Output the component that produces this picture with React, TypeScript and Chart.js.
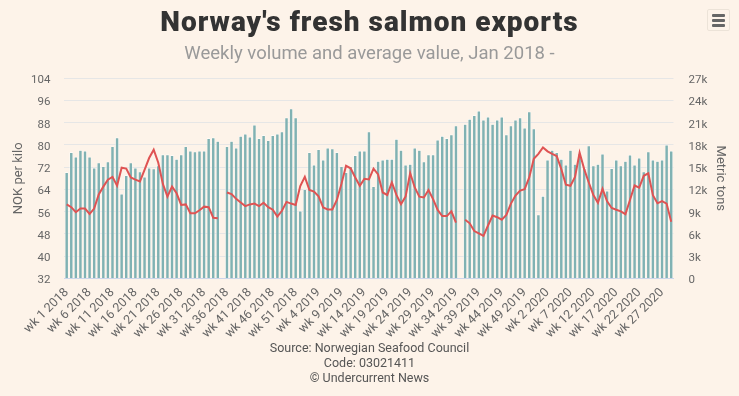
import React, { useEffect, useRef } from 'react';
import { Chart, registerables } from 'chart.js';

Chart.register(...registerables);

const categories: string[] = [
  'wk 1 2018', 'wk 2 2018', 'wk 3 2018', 'wk 4 2018', 'wk 5 2018', 'wk 6 2018', 'wk 7 2018', 'wk 8 2018', 'wk 9 2018', 'wk 10 2018',
  'wk 11 2018', 'wk 12 2018', 'wk 13 2018', 'wk 14 2018', 'wk 15 2018', 'wk 16 2018', 'wk 17 2018', 'wk 18 2018', 'wk 19 2018', 'wk 20 2018',
  'wk 21 2018', 'wk 22 2018', 'wk 23 2018', 'wk 24 2018', 'wk 25 2018', 'wk 26 2018', 'wk 27 2018', 'wk 28 2018', 'wk 29 2018', 'wk 30 2018',
  'wk 31 2018', 'wk 32 2018', 'wk 33 2018', 'wk 34 2018', 'wk 35 2018', 'wk 36 2018', 'wk 37 2018', 'wk 38 2018', 'wk 39 2018', 'wk 40 2018',
  'wk 41 2018', 'wk 42 2018', 'wk 43 2018', 'wk 44 2018', 'wk 45 2018', 'wk 46 2018', 'wk 47 2018', 'wk 48 2018', 'wk 49 2018', 'wk 50 2018',
  'wk 51 2018', 'wk 52 2018',
  'wk 1 2019', 'wk 2 2019', 'wk 3 2019', 'wk 4 2019', 'wk 5 2019', 'wk 6 2019', 'wk 7 2019', 'wk 8 2019', 'wk 9 2019', 'wk 10 2019',
  'wk 11 2019', 'wk 12 2019', 'wk 13 2019', 'wk 14 2019', 'wk 15 2019', 'wk 16 2019', 'wk 17 2019', 'wk 18 2019', 'wk 19 2019', 'wk 20 2019',
  'wk 21 2019', 'wk 22 2019', 'wk 23 2019', 'wk 24 2019', 'wk 25 2019', 'wk 26 2019', 'wk 27 2019', 'wk 28 2019', 'wk 29 2019', 'wk 30 2019',
  'wk 31 2019', 'wk 32 2019', 'wk 33 2019', 'wk 34 2019', 'wk 35 2019', 'wk 36 2019', 'wk 37 2019', 'wk 38 2019', 'wk 39 2019', 'wk 40 2019',
  'wk 41 2019', 'wk 42 2019', 'wk 43 2019', 'wk 44 2019', 'wk 45 2019', 'wk 46 2019', 'wk 47 2019', 'wk 48 2019', 'wk 49 2019', 'wk 50 2019',
  'wk 51 2019', 'wk 52 2019',
  'wk 1 2020', 'wk 2 2020', 'wk 3 2020', 'wk 4 2020', 'wk 5 2020', 'wk 6 2020', 'wk 7 2020', 'wk 8 2020', 'wk 9 2020', 'wk 10 2020',
  'wk 11 2020', 'wk 12 2020', 'wk 13 2020', 'wk 14 2020', 'wk 15 2020', 'wk 16 2020', 'wk 17 2020', 'wk 18 2020', 'wk 19 2020', 'wk 20 2020',
  'wk 21 2020', 'wk 22 2020', 'wk 23 2020', 'wk 24 2020', 'wk 25 2020', 'wk 26 2020', 'wk 27 2020', 'wk 28 2020', 'wk 29 2020',
];

// Metric tons per week
const volumeTons: (number | null)[] = [
  14300, 17000, 16400, 17300, 17200, 16400, 14900, 15600, 15100, 15750,
  17800, 19000, 11400, 13900, 15600, 14900, 14400, 13700, 14900, 14800,
  15200, 16700, 16700, 16600, 16100, 16700, 17800, 17200, 17100, 17200,
  17200, 18900, 19000, 18500, null, 17800, 18500, 17600, 19200, 19500,
  19100, 20700, 18900, 19300, 18600, 19300, 19500, 19800, 21700, 22900,
  21700, 9100, 12000, 17000, 15300, 17400, 16000, 17600, 17500, 17000,
  15100, 14300, 15100, 16600, 17200, 17200, 19800, 12400, 15800, 16000,
  16100, 16100, 18800, 17300, 15300, 15400, 17600, 17300, 15750, 16700,
  16700, 18700, 19200, 18900, 19400, 20600, null, 20800, 21500, 22000,
  22600, 21400, 21800, 20800, 21400, 21800, 19400, 20600, 21400, 21700,
  20300, 22500, 20200, 8600, 11100, 16000, 17300, 17000, 16100, 15300,
  17300, 15400, 16900, 14850, 17900, 15200, 15400, 16800, 11800, 14850,
  16000, 15200, 15800, 16650, 15300, 16250, 14400, 17100, 16000, 15800,
  16000, 18000, 17200,
];

// NOK per kilo
const priceNok: (number | null)[] = [
  58.6, 57.6, 55.8, 57.1, 57.1, 55.2, 57.1, 62.2, 65.0, 67.5,
  68.5, 65.3, 71.8, 71.5, 68.3, 67.5, 66.9, 71.0, 75.3, 78.3,
  73.6, 66.0, 61.4, 65.0, 62.6, 58.4, 58.6, 55.4, 55.4, 56.5,
  57.8, 57.6, 53.8, 53.6, null, 62.9, 62.3, 60.6, 59.3, 58.0,
  58.6, 58.9, 58.0, 59.2, 57.6, 56.7, 54.2, 56.3, 59.5, 58.9,
  58.4, 65.2, 68.5, 63.8, 63.2, 61.5, 57.5, 56.8, 56.8, 60.2,
  66.0, 72.5, 71.6, 68.3, 65.3, 67.8, 67.6, 71.5, 69.4, 62.9,
  62.0, 66.5, 62.0, 58.7, 61.4, 69.9, 64.7, 61.4, 61.1, 63.8,
  60.5, 56.6, 54.4, 54.4, 56.1, 52.0, null, 53.1, 51.8, 49.0,
  48.2, 47.3, 51.0, 54.6, 54.0, 53.1, 54.8, 58.9, 61.8, 63.6,
  64.1, 68.3, 75.0, 76.8, 79.1, 77.7, 76.8, 76.0, 71.3, 65.7,
  65.3, 68.5, 77.2, 71.3, 66.5, 62.0, 59.2, 64.2, 59.7, 57.3,
  56.7, 56.1, 55.1, 60.2, 65.4, 64.6, 68.9, 69.8, 61.9, 59.0,
  59.8, 58.9, 52.4,
];

const priceAxis = { min: 32, max: 104, step: 8 };
const volumeAxis = { min: 0, max: 27000, step: 3000 };
const footerLines = ['Source: Norwegian Seafood Council', 'Code: 03021411', '© Undercurrent News'];

const FONT = 'Roboto, "Open Sans", sans-serif';

export default function App() {
  const ref = useRef<HTMLCanvasElement>(null);

  useEffect(() => {
    document.body.style.margin = '0';
    const canvas = ref.current;
    if (!canvas) return;
    const yTickFont = { family: FONT, size: 11.5 };
    const xTickFont = { family: FONT, size: 12.5 };
    const chart = new Chart(canvas, {
      type: 'bar',
      data: {
        labels: categories,
        datasets: [
          {
            type: 'line',
            label: 'NOK per kilo',
            data: priceNok,
            yAxisID: 'y',
            borderColor: '#df5353',
            borderWidth: 2,
            pointRadius: 0,
            tension: 0,
            spanGaps: false,
            order: 0,
          } as any,
          {
            type: 'bar',
            label: 'Metric tons',
            data: volumeTons,
            yAxisID: 'y1',
            backgroundColor: '#80b2b3',
            borderColor: '#ffffff',
            borderWidth: 0.6,
            barPercentage: 0.8,
            categoryPercentage: 1,
            order: 1,
          } as any,
        ],
      },
      options: {
        responsive: false,
        animation: false,
        layout: { padding: { top: 78.3, left: 0, right: 0, bottom: 0 } },
        plugins: {
          legend: { display: false },
          tooltip: { enabled: false },
          title: { display: false },
        },
        scales: {
          x: {
            grid: { display: false, drawTicks: false },
            border: { display: true, color: '#ccd6eb', width: 1 },
            ticks: {
              autoSkip: false,
              maxRotation: 45,
              minRotation: 45,
              padding: 7,
              color: '#666666',
              font: xTickFont,
              callback: (_v: any, i: number) => (i % 5 === 0 ? categories[i] : ''),
            },
            afterFit: (s: any) => {
              s.height = 117.7;
            },
          },
          y: {
            position: 'left',
            min: priceAxis.min,
            max: priceAxis.max,
            ticks: { stepSize: priceAxis.step, padding: 14, color: '#666666', font: yTickFont, labelOffset: 2 },
            grid: { color: '#e6e6e6', drawTicks: false },
            border: { display: false },
            title: {
              display: true,
              text: 'NOK per kilo',
              color: '#666666',
              font: { family: FONT, size: 13 },
              padding: { top: 10.5, bottom: 0 },
            },
            afterFit: (s: any) => {
              s.width = 64.4;
            },
          },
          y1: {
            position: 'right',
            min: volumeAxis.min,
            max: volumeAxis.max,
            ticks: {
              stepSize: volumeAxis.step,
              padding: 15,
              color: '#666666',
              font: yTickFont,
              labelOffset: 2,
              callback: (v: any) => (Number(v) === 0 ? '0' : Number(v) / 1000 + 'k'),
            },
            grid: { display: false, drawTicks: false },
            border: { display: false },
            title: {
              display: true,
              text: 'Metric tons',
              color: '#666666',
              font: { family: FONT, size: 13 },
              padding: { top: 11, bottom: 0 },
            },
            afterFit: (s: any) => {
              s.width = 65.5;
            },
          },
        },
      } as any,
    });
    return () => chart.destroy();
  }, []);

  return (
    <div
      style={{
        position: 'relative',
        width: 739,
        height: 396,
        background: '#fdf3e9',
        overflow: 'hidden',
        fontFamily: FONT,
      }}
    >
      <canvas ref={ref} width={739} height={396} style={{ position: 'absolute', left: 0, top: 0, width: 739, height: 396 }} />
      <div
        style={{
          position: 'absolute',
          left: 0,
          width: 739,
          top: 5,
          textAlign: 'center',
          fontSize: 28,
          lineHeight: '34px',
          fontWeight: 900,
          letterSpacing: '1px',
          color: '#333333',
        }}
      >
        Norway's fresh salmon exports
      </div>
      <div
        style={{
          position: 'absolute',
          left: 0,
          width: 739,
          top: 41,
          textAlign: 'center',
          fontSize: 18.5,
          lineHeight: '24px',
          color: '#999999',
        }}
      >
        Weekly volume and average value, Jan 2018 -
      </div>
      <div
        style={{
          position: 'absolute',
          left: 707,
          top: 9,
          width: 23,
          height: 22,
          border: '1px solid #ece3d8',
          borderRadius: 2,
          boxSizing: 'border-box',
        }}
      >
        {[5, 10, 15].map((t) => (
          <div
            key={t}
            style={{ position: 'absolute', left: 4, top: t - 1, width: 13, height: 3, borderRadius: 1, background: '#666666' }}
          />
        ))}
      </div>
      <div
        style={{
          position: 'absolute',
          left: 0,
          width: 739,
          top: 340,
          textAlign: 'center',
          fontSize: 12.5,
          lineHeight: '15px',
          color: '#555555',
        }}
      >
        {footerLines.map((l) => (
          <div key={l}>{l}</div>
        ))}
      </div>
    </div>
  );
}
